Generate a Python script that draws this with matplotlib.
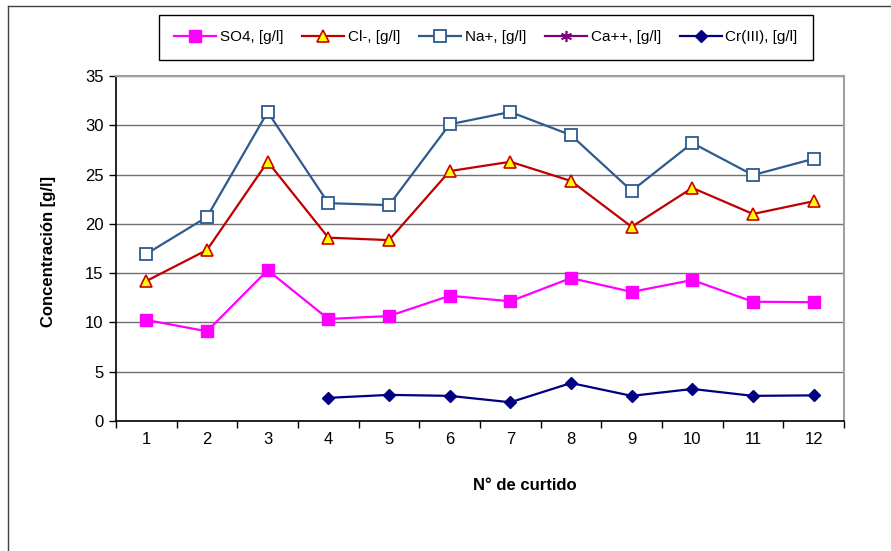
import numpy as np
import matplotlib
matplotlib.use("Agg")
import matplotlib.pyplot as plt
from matplotlib.lines import Line2D

plt.rcParams['font.family'] = ['Liberation Sans', 'DejaVu Sans']

# Data
curtido = [1, 2, 3, 4, 5, 6, 7, 8, 9, 10, 11, 12]
so4 = [10.25, 9.1, 15.3, 10.35, 10.65, 12.7, 12.15, 14.5, 13.1, 14.3, 12.1, 12.05]
cl = [14.2, 17.35, 26.3, 18.6, 18.35, 25.35, 26.3, 24.35, 19.7, 23.65, 21.0, 22.3]
na = [16.95, 20.7, 31.35, 22.1, 21.9, 30.1, 31.35, 29.0, 23.35, 28.2, 24.95, 26.6]
ca = [np.nan] * 12
cr = [np.nan, np.nan, np.nan, 2.35, 2.65, 2.55, 1.9, 3.85, 2.55, 3.25, 2.55, 2.6]
yticks = [0, 5, 10, 15, 20, 25, 30, 35]

W, H = 891, 551
fig = plt.figure(figsize=(W / 100, H / 100), dpi=100)
ax = fig.add_axes([116 / W, 1 - 421 / H, (844 - 116) / W, (421 - 76) / H])

ax.plot(curtido, so4, color='#FF00FF', lw=1.6, marker='s', ms=8,
        mfc='#FF00FF', mec='#FF00FF', label='SO4, [g/l]', zorder=3)
ax.plot(curtido, cl, color='#C00000', lw=1.6, marker='^', ms=9,
        mfc='#FFFF00', mec='#CC0000', mew=1.2, label='Cl-, [g/l]', zorder=3)
ax.plot(curtido, na, color='#2E5A8E', lw=1.6, marker='s', ms=9,
        mfc='white', mec='#2E5A8E', mew=1.3, label='Na+, [g/l]', zorder=3)
ax.plot(curtido, ca, color='#800080', lw=1.6, marker=(6, 2, 0), ms=8,
        mec='#800080', mew=1.2, label='Ca++, [g/l]', zorder=3)
ax.plot(curtido, cr, color='#000080', lw=1.6, marker='D', ms=6,
        mfc='#000080', mec='#000080', label='Cr(III), [g/l]', zorder=3)

ax.set_xlim(0.5, 12.5)
ax.set_ylim(0, 35)
ax.set_yticks(yticks)
ax.set_xticks(np.arange(0.5, 13, 1))
ax.set_xticklabels([])
ax.set_xticks(curtido, minor=True)
ax.set_xticklabels([str(c) for c in curtido], minor=True)
ax.tick_params(axis='x', which='minor', length=0, pad=8, labelsize=12)
ax.tick_params(axis='x', which='major', direction='out', length=5, width=1)
ax.tick_params(axis='y', direction='out', length=5, width=1, pad=4, labelsize=12)

ax.yaxis.grid(True, color='#707070', lw=1)
ax.set_axisbelow(True)
for s in ['left', 'bottom']:
    ax.spines[s].set_color('black')
    ax.spines[s].set_linewidth(1.2)
for s in ['top', 'right']:
    ax.spines[s].set_color('#A0A0A0')
    ax.spines[s].set_linewidth(1.5)

fig.text(49 / W, 1 - 252 / H, 'Concentración [g/l]', rotation=90,
         ha='center', va='center', fontsize=12, fontweight='bold')
fig.text(525 / W, 1 - 486 / H, 'N° de curtido', ha='center', va='center',
         fontsize=12, fontweight='bold')

leg = ax.legend(loc='center', ncol=5, mode='expand',
                bbox_to_anchor=(159 / W, 1 - 62 / H, 654 / W, 49 / H),
                bbox_transform=fig.transFigure, fancybox=False,
                edgecolor='black', framealpha=1, fontsize=11,
                handlelength=2.75, handletextpad=0.25, borderpad=1.0,
                borderaxespad=0, columnspacing=0.8)
leg.get_frame().set_linewidth(1.0)

# outer chart-area frame (only top and left visible)
fig.add_artist(Line2D([8 / W, 1], [1 - 6 / H, 1 - 6 / H], color='#404040', lw=1))
fig.add_artist(Line2D([8 / W, 8 / W], [0, 1 - 6 / H], color='#404040', lw=1))

fig.savefig('out.png', dpi=100)
